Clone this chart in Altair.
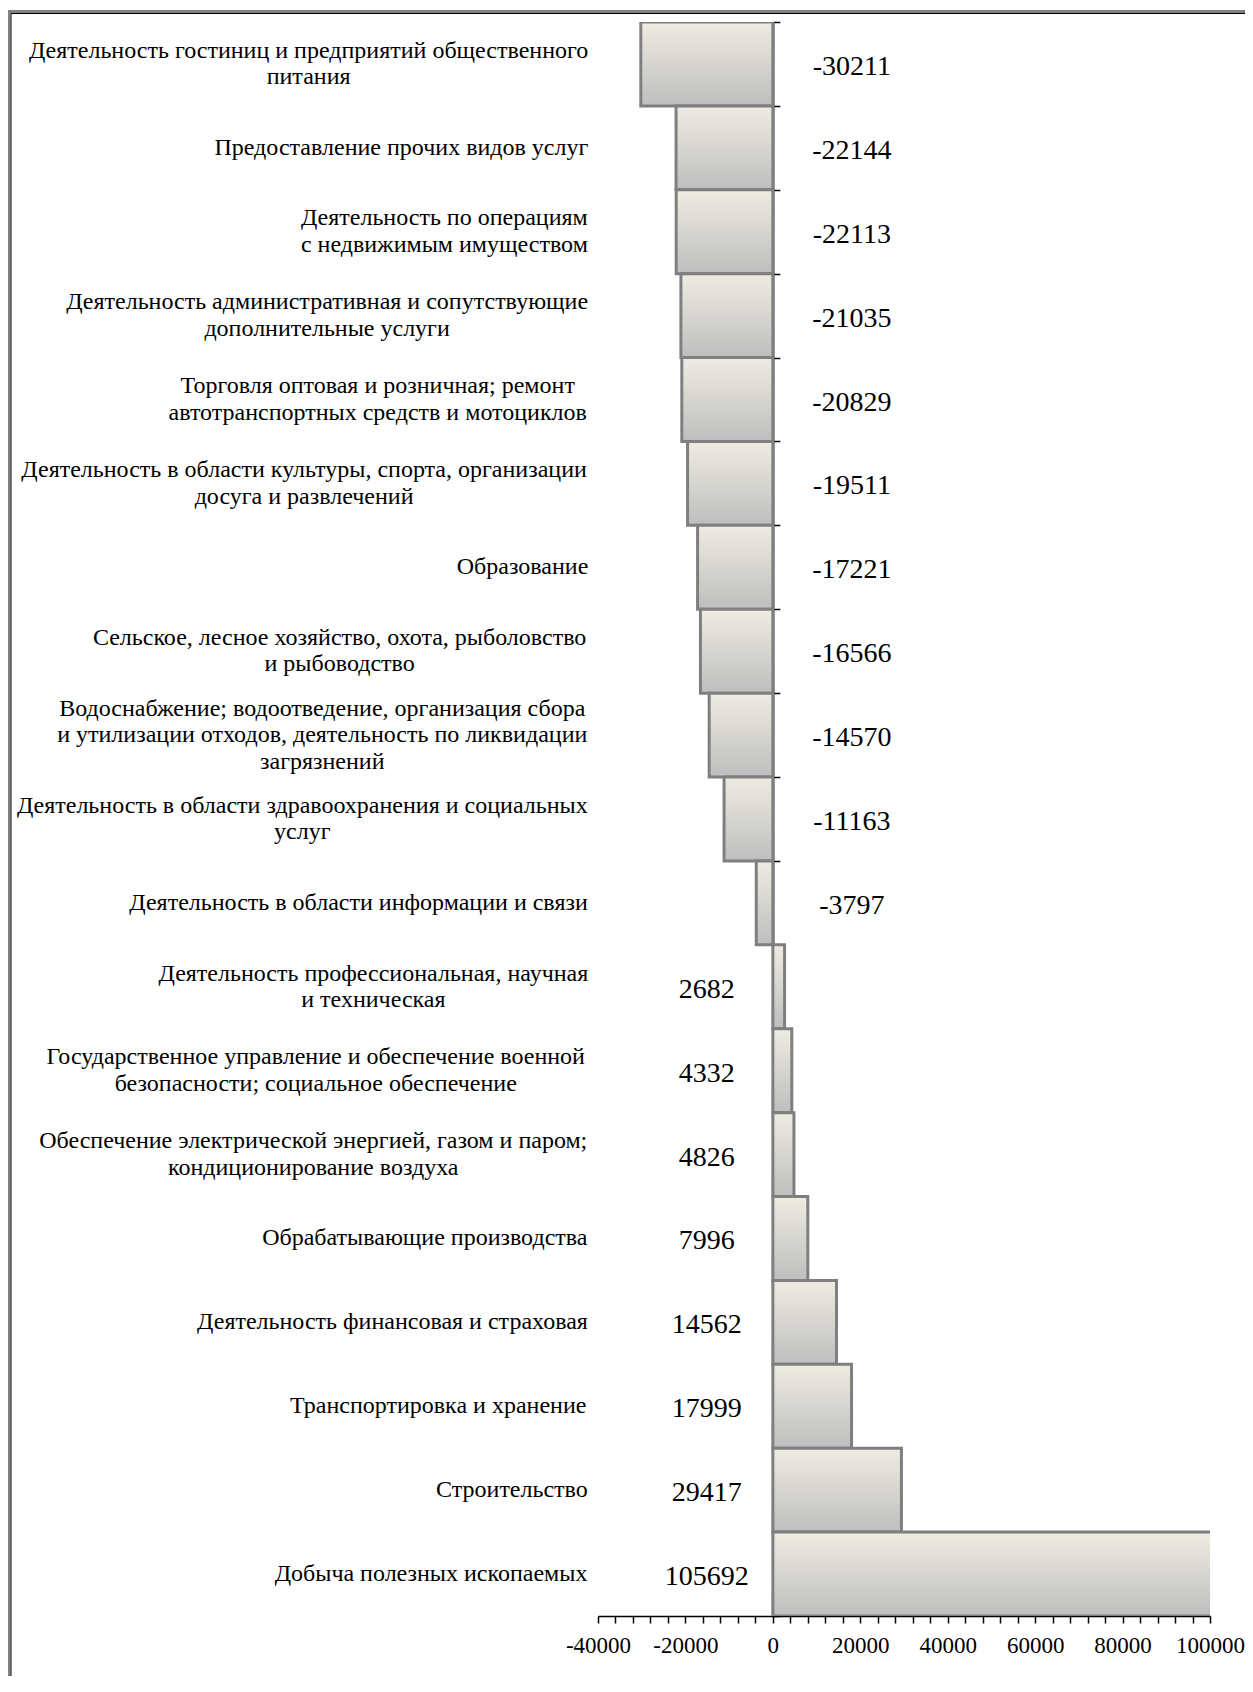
import altair as alt
import pandas as pd

categories = [
    "Деятельность гостиниц и предприятий общественного\nпитания",
    "Предоставление прочих видов услуг",
    "Деятельность по операциям\nс недвижимым имуществом",
    "Деятельность административная и сопутствующие\nдополнительные услуги",
    "Торговля оптовая и розничная; ремонт\nавтотранспортных средств и мотоциклов",
    "Деятельность в области культуры, спорта, организации\nдосуга и развлечений",
    "Образование",
    "Сельское, лесное хозяйство, охота, рыболовство\nи рыбоводство",
    "Водоснабжение; водоотведение, организация сбора\nи утилизации отходов, деятельность по ликвидации\nзагрязнений",
    "Деятельность в области здравоохранения и социальных\nуслуг",
    "Деятельность в области информации и связи",
    "Деятельность профессиональная, научная\nи техническая",
    "Государственное управление и обеспечение военной\nбезопасности; социальное обеспечение",
    "Обеспечение электрической энергией, газом и паром;\nкондиционирование воздуха",
    "Обрабатывающие производства",
    "Деятельность финансовая и страховая",
    "Транспортировка и хранение",
    "Строительство",
    "Добыча полезных ископаемых",
]
values = [-30211, -22144, -22113, -21035, -20829, -19511, -17221, -16566, -14570,
          -11163, -3797, 2682, 4332, 4826, 7996, 14562, 17999, 29417, 105692]

FONT = "Liberation Serif"
CAT_SIZE = 24
LINE_H = 26.5
W, H = 612, 1594

# approximate Times/Liberation Serif advance widths (per 1000 em) to centre
# each label block against a common right edge
_lw = {'а':444,'б':509,'в':472,'г':410,'д':509,'е':444,'ё':444,'ж':691,'з':395,'и':535,
       'й':535,'к':486,'л':499,'м':633,'н':535,'о':500,'п':535,'р':500,'с':444,'т':437,
       'у':500,'ф':648,'х':500,'ц':535,'ч':503,'ш':770,'щ':770,'ъ':517,'ы':672,'ь':456,
       'э':429,'ю':747,'я':460,' ':250,',':250,';':278,'.':250}

def text_width(s, size):
    return sum(_lw.get(c, 680) for c in s) * size / 1000.0

RIGHT_EDGE = -10
df = pd.DataFrame({"cat": categories, "val": values})
df["lx"] = [RIGHT_EDGE - max(text_width(l, CAT_SIZE) for l in c.split("\n")) / 2
            for c in categories]
df["nl"] = [len(c.split("\n")) for c in categories]

ysc = alt.Scale(domain=categories, paddingInner=0, paddingOuter=0)
xsc = alt.Scale(domain=[-40000, 100000], nice=False, zero=False)

zero_px = W * 40000 / 140000

bars = alt.Chart(df).mark_bar(
    clip=True,
    stroke="#7F7F7F",
    strokeWidth=3,
    fill=alt.Gradient(
        gradient="linear",
        stops=[alt.GradientStop(color="#EEECE2", offset=0),
               alt.GradientStop(color="#BEBEBE", offset=1)],
        x1=0, x2=0, y1=0, y2=1,
    ),
).encode(
    y=alt.Y("cat:N", scale=ysc, sort=categories,
            axis=alt.Axis(orient="right", offset=-(W - zero_px), labels=False,
                          title=None, domainColor="black", domainWidth=2,
                          tickColor="black", tickWidth=1.5, tickSize=7,
                          tickBand="extent", grid=False)),
    x=alt.X("val:Q", scale=xsc,
            axis=alt.Axis(values=list(range(-40000, 100001, 4000)),
                          tickCount=200,
                          labelExpr="datum.value % 20000 == 0 ? toString(datum.value) : ''",
                          labelOverlap=False,
                          title=None, grid=False, domainColor="black", domainWidth=1.5,
                          tickColor="black", tickWidth=1.5, tickSize=7,
                          labelFont=FONT, labelFontSize=23, labelColor="black",
                          labelPadding=11, labelFlush=False)),
)

cat_layers = []
for n in (1, 2, 3):
    cat_layers.append(
        alt.Chart(df).transform_filter(f"datum.nl == {n}").mark_text(
            align="center", baseline="middle", font=FONT, fontSize=CAT_SIZE,
            lineBreak="\n", lineHeight=LINE_H, color="black",
            dy=-(n - 1) * LINE_H / 2 + 0,
        ).encode(
            y=alt.Y("cat:N", scale=ysc, sort=categories),
            x=alt.X("lx:Q", scale=None),
            text="cat:N",
        )
    )

neg_labels = alt.Chart(df).transform_filter("datum.val < 0").transform_calculate(
    txt="toString(datum.val)"
).mark_text(
    align="center", baseline="middle", font=FONT, fontSize=28, dx=79, dy=3,
    color="black",
).encode(
    y=alt.Y("cat:N", scale=ysc, sort=categories),
    x=alt.datum(0),
    text="txt:N",
)

pos_labels = alt.Chart(df).transform_filter("datum.val > 0").transform_calculate(
    txt="toString(datum.val)"
).mark_text(
    align="center", baseline="middle", font=FONT, fontSize=28, dx=-66, dy=3,
    color="black",
).encode(
    y=alt.Y("cat:N", scale=ysc, sort=categories),
    x=alt.datum(0),
    text="txt:N",
)

frame_data = alt.Data(values=[{"k": 1}])
frame_outer = alt.Chart(frame_data).mark_rect(
    fill=None, stroke="#808080", strokeWidth=3
).encode(x=alt.value(-589), x2=alt.value(W + 200),
         y=alt.value(-10.5), y2=alt.value(H + 200))
frame_inner = alt.Chart(frame_data).mark_rect(
    fill=None, stroke="black", strokeWidth=1
).encode(x=alt.value(-587), x2=alt.value(W + 200),
         y=alt.value(-8.5), y2=alt.value(H + 200))

chart = alt.layer(
    frame_outer, frame_inner, bars, *cat_layers, neg_labels, pos_labels
).properties(
    width=W, height=H,
    background="white",
    autosize=alt.AutoSizeParams(type="none"),
    padding={"left": 590, "top": 14, "right": 35, "bottom": 60},
).configure_view(strokeWidth=0, stroke=None)

chart.save("out.html", embed_options={"renderer": "svg", "actions": False})
